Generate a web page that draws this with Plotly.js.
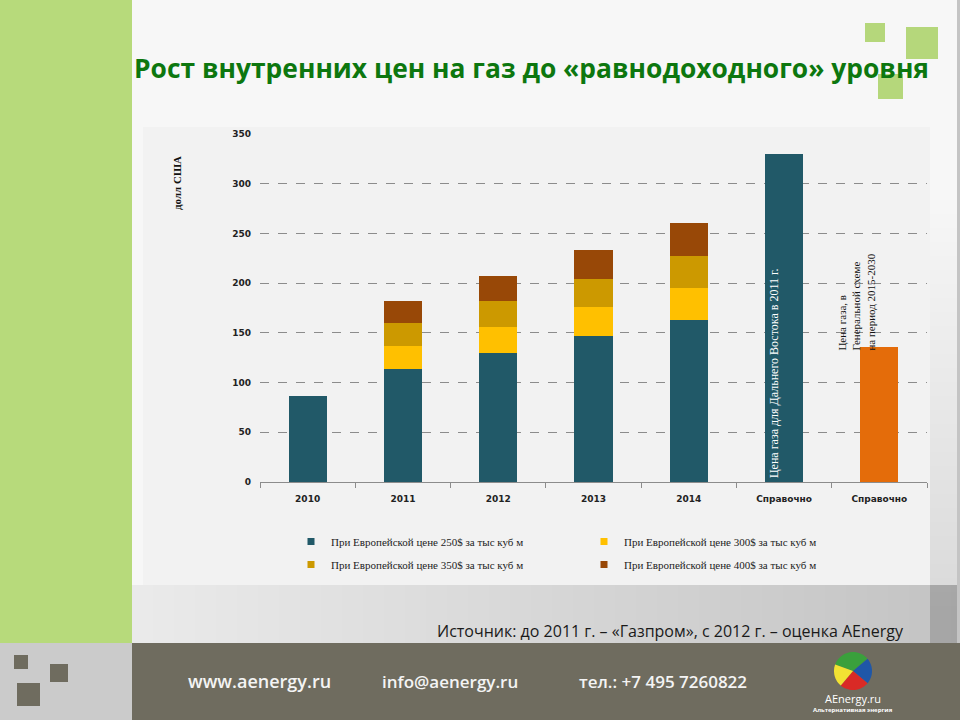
<!DOCTYPE html>
<html>
<head>
<meta charset="utf-8">
<script src="https://cdn.plot.ly/plotly-3.0.1.min.js"></script>
<style>
  html, body { margin: 0; padding: 0; background: #f6f6f6; }
  #chartDiv { width: 960px; height: 720px; }
</style>
</head>
<body>
<div id="chartDiv"></div>
<script>
// chart values
var categories = ['2010', '2011', '2012', '2013', '2014', 'Справочно', 'Справочно'];
var s250 = [86, 114, 130, 147, 163, 330, null]; // base part, 250$ (plus Far East price)
var s300 = [null, 23, 26, 29, 32, null, null];   // added at 300$
var s350 = [null, 23, 26, 28, 32, null, null];   // added at 350$
var s400 = [null, 22, 25, 29, 33, null, null];   // added at 400$
var genScheme = [null, null, null, null, null, null, 136]; // general scheme 2015-2030
var seriesNames = [
    'При Европейской цене 250$ за тыс куб м',
    'При Европейской цене 300$ за тыс куб м',
    'При Европейской цене 350$ за тыс куб м',
    'При Европейской цене 400$ за тыс куб м'
];
var yTicks = [0, 50, 100, 150, 200, 250, 300, 350];

var W = 960, H = 720;
function fx(p) { return p / W; }      // pixel -> paper x
function fy(p) { return 1 - p / H; }  // pixel -> paper y

function rect(x0, y0, x1, y1, color, opacity) {
    return {
        type: 'rect', xref: 'paper', yref: 'paper', layer: 'below',
        x0: fx(x0), x1: fx(x1), y0: fy(y1), y1: fy(y0),
        fillcolor: color, opacity: opacity || 1, line: { width: 0 }
    };
}

// pie wedge for the little logo, drawn as polygon in paper units
function wedge(cx, cy, r, a0, a1, color) {
    var d = 'M' + fx(cx) + ',' + fy(cy);
    for (var k = 0; k <= 16; k++) {
        var a = (a0 + (a1 - a0) * k / 16) * Math.PI / 180;
        d += ' L' + fx(cx + r * Math.cos(a)) + ',' + fy(cy + r * Math.sin(a));
    }
    d += ' Z';
    return { type: 'path', xref: 'paper', yref: 'paper', layer: 'above', path: d, fillcolor: color, line: { width: 0 } };
}

var xIdx = categories.map(function (c, i) { return i; });
var colors = ['#215968', '#ffc000', '#cc9900', '#984807'];
var vals = [s250, s300, s350, s400];

var data = [];
for (var i = 0; i < 4; i++) {
    data.push({
        type: 'bar',
        x: xIdx,
        y: vals[i],
        name: seriesNames[i],
        marker: { color: colors[i] },
        showlegend: false,
        hoverinfo: 'none'
    });
}
data.push({
    type: 'bar',
    x: xIdx,
    y: genScheme,
    name: 'Генеральная схема',
    marker: { color: '#e46c0a' },
    showlegend: false,
    hoverinfo: 'none'
});
// legend entries with small square keys, like the slide
for (var j = 0; j < 4; j++) {
    data.push({
        type: 'scatter',
        mode: 'markers',
        x: [null],
        y: [null],
        name: seriesNames[j],
        marker: { symbol: 'square', size: 7, color: colors[j] },
        legend: (j % 2 === 0) ? 'legend' : 'legend2',
        legendgroup: 'g' + j,
        hoverinfo: 'none'
    });
}

var shapes = [
    rect(132, 0, 960, 643, '#f7f7f7'),
    rect(132, 585, 960, 643, '#ebebeb')
];
// soft grey shading towards the lower right corner of the slide
for (var k = 0; k < 40; k++) {
    shapes.push(rect(132 + k * 21, 585, 960, 643, '#000000', 0.0035));
}
for (var m = 0; m < 30; m++) {
    shapes.push(rect(930, 200 + m * 14, 960, 643, '#000000', 0.0045));
}
shapes = shapes.concat([
    rect(957, 0, 960, 643, '#c4c4c4'),
    rect(0, 0, 132, 643, '#b7da7b'),
    rect(143, 127, 930, 585, '#f2f2f2'),
    rect(865, 23, 885, 42, '#b5d77b'),
    rect(906, 27, 938, 59, '#b5d77b'),
    rect(878, 74, 903, 99, '#b5d77b'),
    rect(0, 643, 960, 720, '#6f6c5f'),
    rect(0, 643, 132, 720, '#cbcbcb'),
    rect(14, 655, 28, 669, '#6f6c5f'),
    rect(50, 664, 68, 682, '#6f6c5f'),
    rect(17, 683, 40, 706, '#6f6c5f'),
    wedge(853, 671, 19, 200, 320, '#3aa03c'),
    wedge(853, 671, 19, 320, 400, '#1f57a8'),
    wedge(853, 671, 19, 40, 130, '#d92a26'),
    wedge(853, 671, 19, 130, 200, '#f2e233')
]);

var annotations = [
    {   // slide title
        xref: 'paper', yref: 'paper', x: fx(531), y: fy(68),
        text: '<b>Рост внутренних цен на газ до «равнодоходного» уровня</b>',
        showarrow: false, xanchor: 'center', yanchor: 'middle',
        font: { family: 'Open Sans', size: 26.4, color: '#0d770f' }
    },
    {   // y axis caption
        xref: 'paper', yref: 'paper', x: fx(177), y: fy(183),
        text: '<b>долл США</b>', textangle: -90, showarrow: false,
        xanchor: 'center', yanchor: 'middle',
        font: { family: 'Liberation Serif', size: 11, color: '#111' }
    },
    {   // label inside the Far East bar
        xref: 'x', yref: 'y', x: 5, y: 0, xshift: -10, yshift: 2,
        text: 'Цена газа для Дальнего Востока в 2011 г.', textangle: -90,
        showarrow: false, xanchor: 'center', yanchor: 'bottom',
        font: { family: 'Liberation Serif', size: 12, color: '#ffffff' }
    },
    {   // label above the general scheme bar
        xref: 'x', yref: 'y', x: 6, y: 130, xshift: -23,
        text: 'Цена газа, в<br>Генеральной схеме<br>на период 2015-2030', textangle: -90,
        showarrow: false, xanchor: 'center', yanchor: 'bottom', align: 'left',
        font: { family: 'Liberation Serif', size: 11, color: '#111' }
    },
    {   // source line
        xref: 'paper', yref: 'paper', x: fx(906), y: fy(631),
        text: 'Источник: до 2011 г. – «Газпром», с 2012 г. – оценка AEnergy',
        showarrow: false, xanchor: 'right', yanchor: 'middle',
        font: { family: 'Open Sans', size: 16, color: '#1a1a1a' }
    },
    {
        xref: 'paper', yref: 'paper', x: fx(186), y: fy(681),
        text: 'www.aenergy.ru', showarrow: false, xanchor: 'left', yanchor: 'middle',
        font: { family: 'Open Sans', size: 18, color: '#f4f4f4', weight: 600 }
    },
    {
        xref: 'paper', yref: 'paper', x: fx(380), y: fy(681),
        text: 'info@aenergy.ru', showarrow: false, xanchor: 'left', yanchor: 'middle',
        font: { family: 'Open Sans', size: 17, color: '#f4f4f4', weight: 600 }
    },
    {
        xref: 'paper', yref: 'paper', x: fx(577), y: fy(681),
        text: 'тел.: +7 495 7260822', showarrow: false, xanchor: 'left', yanchor: 'middle',
        font: { family: 'Open Sans', size: 17, color: '#f4f4f4', weight: 600 }
    },
    {
        xref: 'paper', yref: 'paper', x: fx(853), y: fy(698),
        text: 'AEnergy.ru', showarrow: false, xanchor: 'center', yanchor: 'middle',
        font: { family: 'Open Sans', size: 11, color: '#ffffff' }
    },
    {
        xref: 'paper', yref: 'paper', x: fx(853), y: fy(710),
        text: '<b>Альтернативная энергия</b>', showarrow: false, xanchor: 'center', yanchor: 'middle',
        font: { family: 'Open Sans', size: 6, color: '#ffffff' }
    }
];

var legendFont = { family: 'Liberation Serif', size: 11, color: '#222' };

var layout = {
    width: W,
    height: H,
    margin: { l: 0, r: 0, t: 0, b: 0 },
    paper_bgcolor: '#f6f6f6',
    plot_bgcolor: 'rgba(0,0,0,0)',
    barmode: 'stack',
    bargap: 0.6,
    showlegend: true,
    xaxis: {
        domain: [fx(260), fx(927)],
        range: [-0.5, 6.5],
        tickmode: 'array',
        tickvals: xIdx,
        ticktext: categories,
        ticks: '',
        ticklabelstandoff: 8,
        showgrid: false,
        zeroline: false,
        showline: true,
        linecolor: '#8c8c8c',
        linewidth: 1,
        minor: { tick0: -0.5, dtick: 1, ticks: 'outside', ticklen: 5, tickcolor: '#8c8c8c', showgrid: false },
        tickfont: { family: 'DejaVu Sans', size: 9, color: '#222', weight: 'bold' },
        fixedrange: true
    },
    yaxis: {
        domain: [fy(482), fy(134)],
        range: [0, 350],
        tickmode: 'array',
        tickvals: yTicks,
        ticks: '',
        ticklabelstandoff: 8,
        showgrid: true,
        gridcolor: '#8c8c8c',
        griddash: 'dash',
        gridwidth: 1,
        zeroline: false,
        showline: false,
        tickfont: { family: 'DejaVu Sans', size: 9, color: '#222', weight: 'bold' },
        fixedrange: true
    },
    legend: {
        x: fx(291), y: fy(527), xanchor: 'left', yanchor: 'top',
        orientation: 'v', bgcolor: 'rgba(0,0,0,0)', tracegroupgap: 4,
        font: legendFont, itemwidth: 30
    },
    legend2: {
        x: fx(584), y: fy(527), xanchor: 'left', yanchor: 'top',
        orientation: 'v', bgcolor: 'rgba(0,0,0,0)', tracegroupgap: 4,
        font: legendFont, itemwidth: 30
    },
    shapes: shapes,
    annotations: annotations
};

Plotly.newPlot('chartDiv', data, layout, { staticPlot: true, displayModeBar: false });
</script>
</body>
</html>
